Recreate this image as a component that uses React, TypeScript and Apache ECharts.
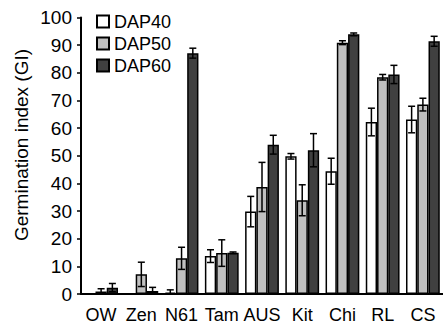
import React, { useEffect, useRef } from "react";
import * as echarts from "echarts";

const categories = ["OW", "Zen", "N61", "Tam", "AUS", "Kit", "Chi", "RL", "CS"];
const dap40 = [0, 0, 0.5, 13.7, 29.8, 49.8, 44.4, 62.2, 63.1];
const dap40Err = [0, 0, 1.0, 2.3, 5.5, 1.0, 4.7, 5.0, 4.8];
const dap50 = [0.9, 7.1, 12.9, 14.8, 38.7, 33.9, 90.9, 78.4, 68.5];
const dap50Err = [1.0, 4.4, 4.0, 4.8, 8.9, 5.6, 0.7, 1.0, 2.3];
const dap60 = [2.3, 1.1, 87.1, 14.9, 54.0, 52.0, 93.9, 79.4, 91.4];
const dap60Err = [1.5, 1.3, 1.8, 0.3, 3.4, 6.0, 0.5, 3.3, 1.8];
const seriesNames = ["DAP40", "DAP50", "DAP60"];
const seriesColors = ["#ffffff", "#c0c0c0", "#404040"];

const FONT = "'Liberation Sans', Arial, sans-serif";

export default function App() {
  const ref = useRef<HTMLDivElement>(null);
  useEffect(() => {
    if (!ref.current) return;
    const chart = echarts.init(ref.current, undefined, { renderer: "svg" });
    const values = [dap40, dap50, dap60];
    const errs = [dap40Err, dap50Err, dap60Err];
    const errData: number[][] = [];
    values.forEach((vals, s) => {
      vals.forEach((v, i) => {
        if (errs[s][i] > 0) errData.push([i, v, errs[s][i], s]);
      });
    });
    const gapFrac = 0.16;
    chart.setOption({
      animation: false,
      textStyle: { fontFamily: FONT },
      grid: { left: 81, right: -6, top: 17.5, bottom: 34 },
      legend: {
        data: seriesNames,
        orient: "vertical",
        left: 96,
        top: 12.5,
        padding: 0,
        itemWidth: 12,
        itemHeight: 12,
        itemGap: 4,
        icon: "rect",
        textStyle: { fontSize: 18, color: "#000", fontFamily: FONT },
      },
      xAxis: {
        type: "category",
        data: categories,
        axisLine: { lineStyle: { color: "#000", width: 2 } },
        axisTick: { show: false },
        axisLabel: { fontSize: 18, color: "#000", margin: 12, fontFamily: FONT, interval: 0 },
      },
      yAxis: {
        type: "value",
        min: 0,
        max: 100,
        interval: 10,
        axisLine: { show: true, lineStyle: { color: "#000", width: 2 } },
        axisTick: { show: true, length: 4, lineStyle: { color: "#000", width: 1.5 } },
        axisLabel: { fontSize: 19, color: "#000", margin: 9, fontFamily: FONT },
        splitLine: { show: false },
      },
      graphic: [
        {
          type: "text",
          x: 21,
          y: 145,
          rotation: Math.PI / 2,
          style: {
            text: "Germination index (GI)",
            fontSize: 19,
            fontFamily: FONT,
            fill: "#000",
            align: "center",
            verticalAlign: "middle",
          },
        },
      ],
      series: [
        ...seriesNames.map((name, s) => ({
          name,
          type: "bar",
          data: values[s],
          barGap: "0%",
          barCategoryGap: "16%",
          itemStyle: { color: seriesColors[s], borderColor: "#000", borderWidth: 1.5 },
        })),
        {
          type: "custom",
          data: errData,
          encode: { x: 0, y: 1 },
          z: 10,
          renderItem: (params: any, api: any) => {
            const ci = api.value(0);
            const v = api.value(1);
            const e = api.value(2);
            const s = api.value(3);
            const band = api.size([1, 0])[0];
            const bw = (band * (1 - gapFrac)) / 3;
            const c = api.coord([ci, v]);
            const x = c[0] + (s - 1) * bw;
            const yt = api.coord([ci, v + e])[1];
            const yb = api.coord([ci, Math.max(v - e, 0)])[1];
            const hw = 3.5;
            const st = { stroke: "#000", lineWidth: 1.5 };
            return {
              type: "group",
              children: [
                { type: "line", shape: { x1: x, y1: yt, x2: x, y2: yb }, style: st },
                { type: "line", shape: { x1: x - hw, y1: yt, x2: x + hw, y2: yt }, style: st },
                { type: "line", shape: { x1: x - hw, y1: yb, x2: x + hw, y2: yb }, style: st },
              ],
            };
          },
        },
      ],
    });
    return () => chart.dispose();
  }, []);
  return (
    <div
      ref={ref}
      style={{ position: "absolute", left: 0, top: 0, width: 443, height: 328, background: "#fff" }}
    />
  );
}
